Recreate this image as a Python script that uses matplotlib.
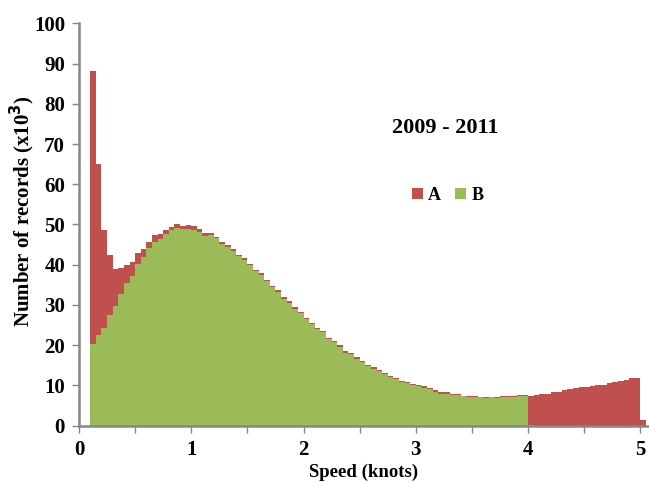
import numpy as np
import matplotlib.pyplot as plt

# speed bins (left edge, knots), 0.05 wide
speed = np.round(np.arange(0.10, 5.001, 0.05), 2)

# number of records (x10^3)
rec_a = [88.2, 65.0, 48.6, 42.3, 39.0, 39.3, 39.9, 40.8,
         42.8, 43.8, 45.7, 47.3, 47.6, 48.7, 49.3, 50.1, 49.6, 49.9, 49.6, 49.0,
         47.9, 47.8, 47.0, 45.6, 44.8, 43.8,
         42.5, 41.6, 40.3, 38.8, 37.9, 36.3, 34.8, 33.6, 31.9, 30.9, 29.4, 28.3,
         26.8, 25.6, 24.4, 23.5, 21.9, 21.1, 20.0, 18.5, 18.0, 17.0, 16.2, 15.2,
         14.5, 13.9, 13.1, 12.4, 11.8, 11.2, 10.9, 10.4, 10.0,
         9.8, 9.3, 8.8, 8.3, 8.3, 8.0, 7.8, 7.4, 7.5, 7.5, 7.2, 7.1, 7.2, 7.2,
         7.3, 7.3, 7.3, 7.6, 7.6,
         7.5, 7.7, 8.0, 8.0, 8.3, 8.5, 8.8, 9.1, 9.3, 9.5, 9.7, 9.9, 10.0,
         10.2, 10.5, 10.8, 11.2, 11.3, 11.8, 11.8, 1.4]

rec_b = [20.3, 22.5, 24.4, 27.5, 29.8, 32.7, 35.4, 37.3,
         40.3, 41.8, 44.2, 45.7, 46.3, 47.7, 48.6, 49.1, 48.8, 49.0, 48.6, 48.2,
         47.2, 47.4, 46.6, 45.2, 44.4, 43.3,
         42.1, 41.2, 39.9, 38.4, 37.5, 35.9, 34.4, 33.2, 31.6, 30.6, 29.1, 27.9,
         26.4, 25.2, 24.0, 23.2, 21.5, 20.7, 19.6, 18.1, 17.7, 16.7, 15.9, 14.9,
         14.2, 13.7, 12.8, 12.2, 11.5, 10.9, 10.7, 10.2, 9.8,
         9.4, 9.1, 8.4, 8.0, 8.0, 7.6, 7.6, 7.3, 7.1, 7.1, 7.1, 7.0, 7.05, 7.0,
         7.1, 7.1, 7.1, 7.4, 7.4,
         0.3] + [0] * 20

plt.rcParams['font.family'] = ['Liberation Serif', 'DejaVu Serif']
plt.rcParams['font.weight'] = 'bold'

fig = plt.figure(figsize=(6.49, 4.83), dpi=100)
ax = fig.add_axes([0.1217, 0.1186, 0.878, 0.8332])

ax.bar(speed, rec_a, width=0.05, align='edge', color='#C0504D', linewidth=0, label='A')
ax.bar(speed, rec_b, width=0.05, align='edge', color='#9BBB59', linewidth=0, label='B')

ax.set_xlim(0, 5.075)
ax.set_ylim(0, 100)
ax.set_yticks(np.arange(0, 101, 10))
ax.set_xticks(np.arange(0, 6, 1))
ax.set_xticks(np.arange(0.5, 5.1, 1), minor=True)

for s in ['top', 'right']:
    ax.spines[s].set_visible(False)
for s in ['left', 'bottom']:
    ax.spines[s].set_color('#868686')
    ax.spines[s].set_linewidth(1.8)
ax.tick_params(which='both', colors='#868686', length=5, width=1, labelsize=15,
               labelcolor='black')
ax.tick_params(axis='x', pad=5)
ax.tick_params(axis='y', pad=5)

ax.set_xlabel('Speed (knots)', fontsize=13.5, fontweight='bold', labelpad=3)
ax.set_ylabel('Number of records (x10$^{3}$)', fontsize=15, fontweight='bold')
ax.yaxis.set_label_coords(-0.074, 0.534)

ax.text(0.642, 0.74, '2009 - 2011', transform=ax.transAxes, ha='center', va='center',
        fontsize=16, fontweight='bold')
ax.legend(loc='center', bbox_to_anchor=(0.647, 0.573), ncol=2, frameon=False,
          handlelength=0.6, handleheight=0.6, handletextpad=0.3, columnspacing=0.8,
          prop={'size': 13, 'weight': 'bold'})

fig.savefig('out.png', dpi=100)
